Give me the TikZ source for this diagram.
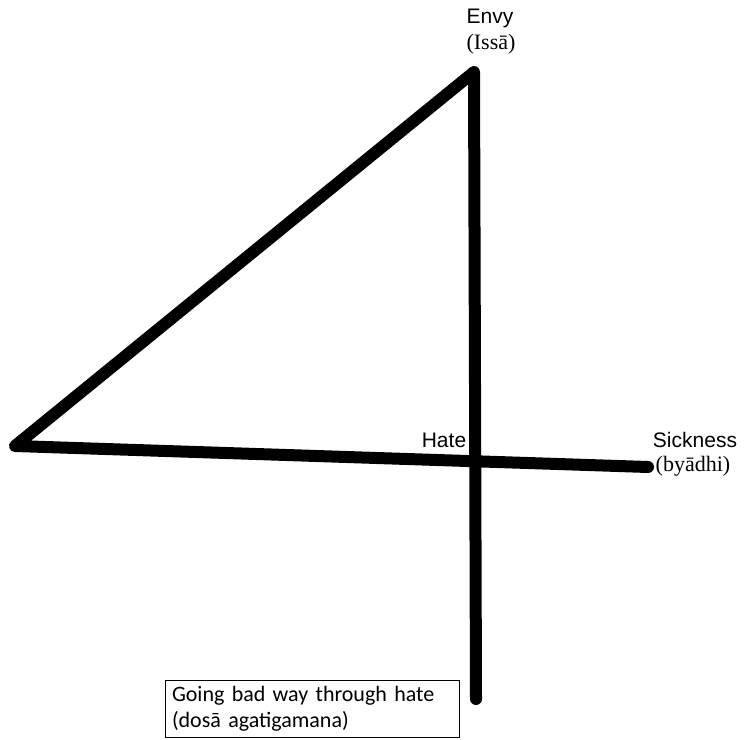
\documentclass[tikz,border=0pt]{standalone}
\usepackage{fontspec}
\setmainfont{Liberation Serif}
\newfontfamily\arialf{Liberation Sans}
\newfontfamily\calibrif{Carlito}
\begin{document}
\begin{tikzpicture}[x=1pt,y=1pt,
  thick line/.style={line width=12pt,line cap=round,line join=round},
  sanslabel/.style={font=\arialf\fontsize{21}{24}\selectfont,inner sep=0pt},
  seriflabel/.style={font=\fontsize{22}{25}\selectfont,inner sep=0pt},
  captionbox/.style={draw,line width=1pt,font=\calibrif\fontsize{22}{26}\selectfont,align=left,inner xsep=7pt,inner ysep=3pt,minimum width=294pt,minimum height=57pt,text width=280pt}]
\useasboundingbox (0,0) rectangle (744,739);
\coordinate (A) at (474,667);
\coordinate (L) at (15,293);
\coordinate (R) at (648,272);
\coordinate (B) at (476,40);
\draw[thick line] (R) -- (L) -- (A) -- (B);
\node[sanslabel] (envy) at (490,721) {Envy};
\node[seriflabel] (issa) at (491,695) {(Issā)};
\node[sanslabel] (hate) at (444,299) {Hate};
\node[sanslabel] (sick) at (695,299) {Sickness};
\node[seriflabel] (byadhi) at (693,273) {(byādhi)};
\node[captionbox] (box) at (312,30.5) {Going bad way through hate\\(dosā agatigamana)};
\end{tikzpicture}
\end{document}
